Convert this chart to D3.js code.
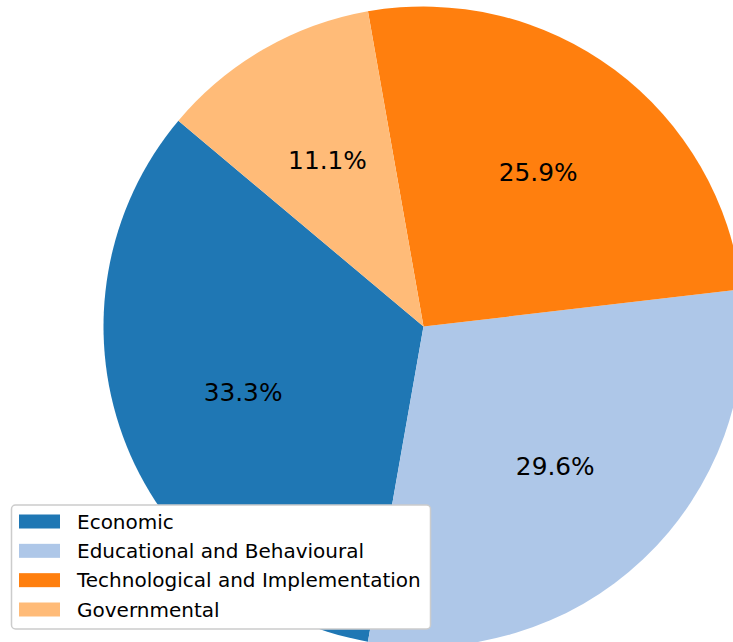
<!DOCTYPE html>
<html>
<head>
<meta charset="utf-8">
<script src="https://cdn.jsdelivr.net/npm/d3@7"></script>
<style>
  body { margin: 0; background: #fff; }
  svg { display: block; }
  text { font-family: "DejaVu Sans", sans-serif; fill: #000; }
</style>
</head>
<body>
<div id="pie-chart"></div>
<script>
// categories and counts (shares 33.3 / 29.6 / 25.9 / 11.1 %)
const categories = ["Economic", "Educational and Behavioural", "Technological and Implementation", "Governmental"];
const counts = [9, 8, 7, 3];
const colors = ["#1f77b4", "#aec7e8", "#ff7f0e", "#ffbb78"];

const width = 733, height = 642;
const cx = 423.5, cy = 326.5, radius = 320;

const svg = d3.select("#pie-chart")
  .append("svg")
  .attr("width", width)
  .attr("height", height);

const g = svg.append("g")
  .attr("transform", `translate(${cx},${cy})`);

// matplotlib style: start at 140deg, counter-clockwise
const start = (90 - 140) * Math.PI / 180;
const pie = d3.pie()
  .sort(null)
  .startAngle(start)
  .endAngle(start - 2 * Math.PI);

const arcs = pie(counts);
const total = d3.sum(counts);

const arc = d3.arc().innerRadius(0).outerRadius(radius);
const labelArc = d3.arc().innerRadius(radius * 0.6).outerRadius(radius * 0.6);

g.selectAll(".slice")
  .data(arcs)
  .join("path")
  .attr("class", "slice")
  .attr("d", arc)
  .attr("fill", (d, i) => colors[i]);

g.selectAll(".pct")
  .data(arcs)
  .join("text")
  .attr("class", "pct")
  .attr("transform", d => `translate(${labelArc.centroid(d)})`)
  .attr("text-anchor", "middle")
  .attr("dominant-baseline", "central")
  .style("font-size", "24.8px")
  .text(d => (d.data / total * 100).toFixed(1) + "%");

// legend, lower left
const legend = svg.append("g").attr("transform", "translate(11.5,505)");
legend.append("rect")
  .attr("width", 419)
  .attr("height", 124)
  .attr("rx", 4)
  .attr("fill", "#fff")
  .attr("stroke", "#cccccc")
  .attr("stroke-width", 1.5);

const rowY = d3.scaleLinear().domain([0, 3]).range([16.5, 104.5]);

const item = legend.selectAll(".item")
  .data(categories)
  .join("g")
  .attr("class", "item")
  .attr("transform", (d, i) => `translate(0,${rowY(i)})`);

item.append("rect")
  .attr("x", 7.5)
  .attr("y", -7)
  .attr("width", 41)
  .attr("height", 14)
  .attr("fill", (d, i) => colors[i]);

item.append("text")
  .attr("x", 65.5)
  .attr("dominant-baseline", "central")
  .style("font-size", "20px")
  .text(d => d);
</script>
</body>
</html>
